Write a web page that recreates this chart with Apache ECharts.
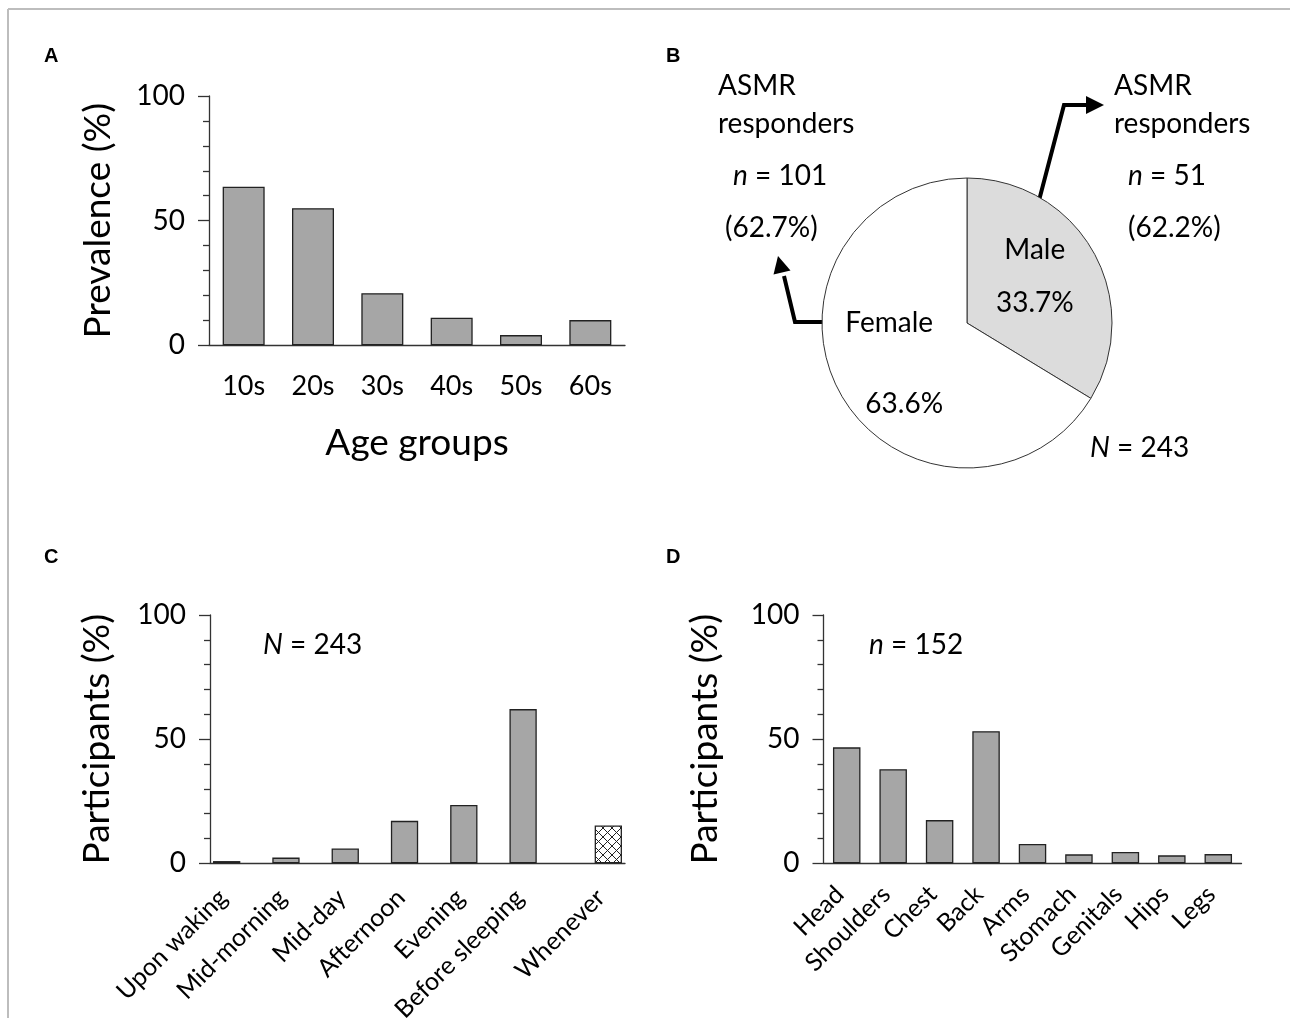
<!DOCTYPE html>
<html><head><meta charset="utf-8">
<script src="https://cdn.jsdelivr.net/npm/echarts@6/dist/echarts.min.js"></script>
<style>html,body{margin:0;padding:0;background:#fff}#c{width:1290px;height:1018px}</style>
</head><body><div id="c"></div>
<script>
// ---- data ----
const ageGroups = ['10s','20s','30s','40s','50s','60s'];
const prevalence = [63.6, 55.0, 20.9, 11.1, 4.1, 10.1];
const timeCats = ['Upon waking','Mid-morning','Mid-day','Afternoon','Evening','Before sleeping','Whenever'];
const timeValues = [0.9, 2.3, 6.0, 17.1, 23.5, 62.1, 15.2];
const bodyParts = ['Head','Shoulders','Chest','Back','Arms','Stomach','Genitals','Hips','Legs'];
const bodyValues = [46.7, 37.9, 17.4, 53.2, 7.8, 3.6, 4.6, 3.2, 3.7];
const pieNames = ['Male','Female'];
const pieValues = [33.7, 66.3];
const pieLabels = ['33.7%','63.6%'];
const yMin = 0, yMax = 100, yStep = 50;

const F = 'Lato';
const TXT = '#000';
const AX = '#333';

function hatch(){
  const c = document.createElement('canvas'); c.width = c.height = 9;
  const g = c.getContext('2d');
  g.fillStyle = '#fff'; g.fillRect(0,0,9,9);
  g.strokeStyle = '#222'; g.lineWidth = 1;
  g.beginPath(); g.moveTo(0,0); g.lineTo(9,9); g.moveTo(9,0); g.lineTo(0,9); g.stroke();
  return c;
}

function yAx(gi, name, gap){
  return {type:'value', gridIndex:gi, min:yMin, max:yMax, interval:yStep,
    name:name, nameLocation:'middle', nameGap:gap, nameRotate:90, nameMoveOverlap:false,
    nameTextStyle:{fontSize:37, color:TXT, fontFamily:F},
    axisLine:{show:true, lineStyle:{color:AX, width:1.3}},
    axisTick:{show:true, length:11, lineStyle:{color:AX, width:1.3}},
    minorTick:{show:true, splitNumber:5, length:6, lineStyle:{color:AX, width:1.3}},
    splitLine:{show:false}, minorSplitLine:{show:false},
    axisLabel:{fontSize:28, color:TXT, fontFamily:F, margin:24}};
}
const barStyle = {color:'#a6a6a6', borderColor:'#222', borderWidth:1.3};

const chart = echarts.init(document.getElementById('c'));
const italic = {i:{fontStyle:'italic', fontSize:28, fontFamily:F, fill:TXT}};
function txt(x, y, s, size, extra){
  return {type:'text', x:x, y:y, silent:true,
    style:Object.assign({text:s, fontSize:size||28, fontFamily:F, fill:TXT,
      align:'left', verticalAlign:'middle', rich:italic}, extra||{})};
}
function poly(points, fill){
  return fill ? {type:'polygon', silent:true, shape:{points:points}, style:{fill:'#000'}}
              : {type:'polyline', silent:true, shape:{points:points}, style:{stroke:'#000', lineWidth:4, fill:null, lineJoin:'miter'}};
}

chart.setOption({
  animation:false,
  textStyle:{fontFamily:F},
  grid:[
    {left:209, top:96, width:416, height:249.3, outerBoundsMode:'none'},
    {left:210, top:615, width:415, height:248.3, outerBoundsMode:'none'},
    {left:823.5, top:615, width:418, height:248.3, outerBoundsMode:'none'}
  ],
  xAxis:[
    {type:'category', gridIndex:0, data:ageGroups, name:'Age groups', nameLocation:'middle', nameGap:79, nameMoveOverlap:false,
     nameTextStyle:{fontSize:37, color:TXT, fontFamily:F},
     axisLine:{lineStyle:{color:AX, width:1.3}}, axisTick:{show:false},
     axisLabel:{fontSize:27, color:TXT, fontFamily:F, margin:27, interval:0}},
    {type:'category', gridIndex:1, data:timeCats,
     axisLine:{lineStyle:{color:AX, width:1.3}}, axisTick:{show:false},
     axisLabel:{interval:0, rotate:45, fontSize:25, color:TXT, fontFamily:F, margin:20,
       formatter:function(v,i){ return i<6 ? '{a|'+v+'}' : '{w|'+v+'}'; },
       rich:{a:{fontSize:25, color:TXT, fontFamily:F, padding:[0,19,8.9,0]},
             w:{fontSize:25, color:TXT, fontFamily:F, padding:[22.1,3.55,0,0]}}}},
    {type:'category', gridIndex:2, data:bodyParts,
     axisLine:{lineStyle:{color:AX, width:1.3}}, axisTick:{show:false},
     axisLabel:{interval:0, rotate:45, fontSize:25, color:TXT, fontFamily:F, margin:27,
       formatter:function(v){ return '{a|'+v+'}'; },
       rich:{a:{fontSize:25, color:TXT, fontFamily:F, padding:[0,5,10,0]}}}}
  ],
  yAxis:[ yAx(0,'Prevalence (%)',92), yAx(1,'Participants (%)',94), yAx(2,'Participants (%)',100) ],
  series:[
    {type:'bar', xAxisIndex:0, yAxisIndex:0, data:prevalence, barWidth:42, itemStyle:barStyle},
    {type:'bar', xAxisIndex:1, yAxisIndex:1, data:timeValues.map(function(v,i){return i<6?v:null;}),
     barWidth:27.3, barGap:'-5%', itemStyle:barStyle},
    {type:'bar', xAxisIndex:1, yAxisIndex:1, data:timeValues.map(function(v,i){return i===6?v:null;}),
     barWidth:27.3, barGap:'-5%', itemStyle:{color:{image:hatch(), repeat:'repeat'}, borderColor:'#222', borderWidth:1.3}},
    {type:'bar', xAxisIndex:2, yAxisIndex:2, data:bodyValues, barWidth:27.5, itemStyle:barStyle},
    {type:'pie', center:[967,323], radius:145, startAngle:90, clockwise:true, silent:true,
     emphasis:{disabled:true},
     data:pieNames.map(function(n,i){return {name:n, value:pieValues[i],
       itemStyle:{color: i===0 ? '#dcdcdc' : '#ffffff', borderColor:'#333', borderWidth:1}};}),
     label:{show:true, position:'inside',
       formatter:function(p){ return p.dataIndex===0 ? '{m|'+p.name+'}\n{m|'+pieLabels[0]+'}' : '{f|'+p.name+'}\n{g|'+pieLabels[1]+'}'; },
       rich:{m:{fontSize:28, color:TXT, fontFamily:F, lineHeight:53},
             f:{fontSize:28, color:TXT, fontFamily:F, lineHeight:81, padding:[0,30,0,0]},
             g:{fontSize:28, color:TXT, fontFamily:F, lineHeight:81}}},
     labelLine:{show:false},
     labelLayout:function(p){ return p.dataIndex===0 ? {dx:2, dy:-10} : {dx:3, dy:3}; }}
  ],
  graphic:[
    {type:'line', silent:true, shape:{x1:8, y1:9, x2:1290, y2:9}, style:{stroke:'#bdbdbd', lineWidth:2}},
    {type:'line', silent:true, shape:{x1:8, y1:9, x2:8, y2:1018}, style:{stroke:'#bdbdbd', lineWidth:2}},
    txt(44, 56, 'A', 20, {fontWeight:'bold', fontFamily:'Liberation Sans'}),
    txt(666, 56, 'B', 20, {fontWeight:'bold', fontFamily:'Liberation Sans'}),
    txt(44, 557, 'C', 20, {fontWeight:'bold', fontFamily:'Liberation Sans'}),
    txt(666, 557, 'D', 20, {fontWeight:'bold', fontFamily:'Liberation Sans'}),
    txt(718, 86, 'ASMR'), txt(718, 124, 'responders'),
    txt(733, 176, '{i|n} = 101'), txt(725, 228, '(62.7%)'),
    txt(1114, 86, 'ASMR'), txt(1114, 124, 'responders'),
    txt(1128, 176, '{i|n} = 51'), txt(1128, 228, '(62.2%)'),
    txt(1090, 448, '{i|N} = 243'),
    txt(263, 645, '{i|N} = 243'),
    txt(869, 645, '{i|n} = 152'),
    poly([[1033.5,221.5],[1064,105],[1088,105]]),
    poly([[1086,96],[1104,105],[1086,114]], true),
    poly([[832,322],[795,322],[784,276]]),
    poly([[773.5,274.5],[778,256],[790.5,270.5]], true)
  ]
});
</script></body></html>
